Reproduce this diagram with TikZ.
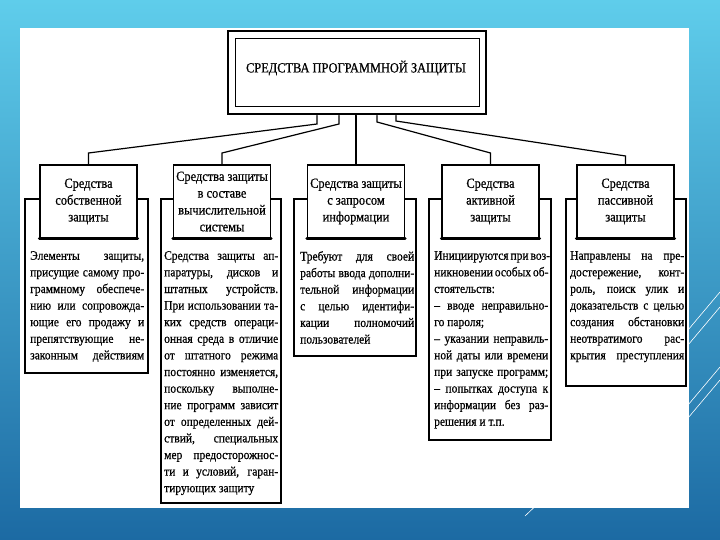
\documentclass[tikz,border=0pt]{standalone}
\usepackage{fontspec}
\setmainfont{Liberation Serif}[FakeStretch=0.885,FakeBold=0.6]
\usetikzlibrary{positioning}
\definecolor{bgtop}{HTML}{5FCDEB}
\definecolor{bgbot}{HTML}{1C6AA3}
% one justified line of a description
\newcommand{\jline}[1]{\noindent\makebox[\hsize][s]{#1}\par}

\begin{document}
\begin{tikzpicture}[x=1pt,y=-1pt,line cap=round,
  hdr/.style={draw,line width=1.3pt,fill=white,minimum width=97pt,minimum height=73pt,inner sep=0pt,align=center,font=\fontsize{14}{16.8}\selectfont},
  frame/.style={draw,line width=1.2pt,anchor=north west,inner sep=0pt,outer sep=0pt},
  body/.style={anchor=north west,inner sep=0pt,text width=114pt,align=justify,font=\fontsize{13}{16.6}\selectfont},
  conn/.style={line width=1.2pt}]
\useasboundingbox (0,0) rectangle (720,540);
% background
\fill[top color=bgtop,bottom color=bgbot] (0,0) rectangle (720,540);
\fill[white] (20,28) rectangle (689,508);
\draw[white,line width=0.6pt] (688,330) -- (720,292) (688,345) -- (720,307) (688,405) -- (720,367) (688,418) -- (720,380) (525,516) -- (545,497);

% main box
\node[draw,line width=2.8pt,minimum width=258pt,minimum height=83pt] (top) at (357,72.5) {};
\node[draw,line width=0.8pt,minimum width=244pt,minimum height=68pt] (topin) at (top) {};
\node[font=\fontsize{14}{16}\selectfont] (title) at (356,68) {СРЕДСТВА ПРОГРАММНОЙ ЗАЩИТЫ};

% frames of the descriptions
\node[frame,minimum width=123pt,minimum height=174pt] (f1) at (25,199) {};
\node[frame,minimum width=120pt,minimum height=304pt] (f2) at (161,199) {};
\node[frame,minimum width=122pt,minimum height=157pt] (f3) at (294,199) {};
\node[frame,minimum width=122pt,minimum height=241pt] (f4) at (429,199) {};
\node[frame,minimum width=120pt,minimum height=187pt] (f5) at (566,199) {};

% kinds of protection
\node[hdr] (h1) at (88.5,201.5) {Средства\\собственной\\защиты};
\node[hdr] (h2) at (222,201.5) {Средства защиты\\в составе\\вычислительной\\системы};
\node[hdr] (h3) at (356,201.5) {Средства защиты\\с запросом\\информации};
\node[hdr] (h4) at (490.5,201.5) {Средства\\активной\\защиты};
\node[hdr] (h5) at (625.5,201.5) {Средства\\пассивной\\защиты};
\foreach \n in {h1,h2,h3,h4,h5}
  \draw[line width=2.8pt] (\n.south west) -- (\n.south east);

% connectors
\coordinate (j1) at (317,124);
\coordinate (j2) at (339,124);
\coordinate (j4) at (377,122);
\coordinate (j5) at (396,121);
\coordinate (k1) at (0,153);
\coordinate (k5) at (0,156);
\draw[conn] (top.south -| j1) -- (j1) -- (h1.north |- k1) -- (h1.north);
\draw[conn] (top.south -| j2) -- (j2) -- (h2.north |- k1) -- (h2.north);
\draw[conn] (top.south -| h3.north) -- (h3.north);
\draw[conn] (top.south -| j4) -- (j4) -- (h4.north |- k1) -- (h4.north);
\draw[conn] (top.south -| j5) -- (j5) -- (h5.north |- k5) -- (h5.north);

% texts
\node[body] (b1) at ([shift={(5,52)}]f1.north west) {\jline{Элементы защиты,}
\jline{присущие самому про-}\jline{граммному обеспече-}\jline{нию или сопровожда-}
\jline{ющие его продажу и}\jline{препятствующие не-}\jline{законным действиям}};
\node[body] (b2) at ([shift={(3,52)}]f2.north west) {\jline{Средства защиты ап-}
\jline{паратуры, дисков и}\jline{штатных устройств.}\jline{При использовании та-}
\jline{ких средств операци-}\jline{онная среда в отличие}\jline{от штатного режима}
\jline{постоянно изменяется,}\jline{поскольку выполне-}\jline{ние программ зависит}
\jline{от определенных дей-}\jline{ствий, специальных}\jline{мер предосторожнос-}
\jline{ти и условий, гаран-}тирующих защиту};
\node[body] (b3) at ([shift={(6,52)}]f3.north west) {\jline{Требуют для своей}
\jline{работы ввода дополни-}\jline{тельной информации}\jline{с целью идентифи-}
\jline{кации полномочий}пользователей};
\node[body] (b4) at ([shift={(5,52)}]f4.north west) {\jline{Инициируются при воз-}
\jline{никновении особых об-}стоятельств:\par
\jline{– вводе неправильно-}го пароля;\par
\jline{– указании неправиль-}\jline{ной даты или времени}\jline{при запуске программ;}
\jline{– попытках доступа к}\jline{информации без раз-}решения и т.п.};
\node[body] (b5) at ([shift={(4,52)}]f5.north west) {\jline{Направлены на пре-}
\jline{достережение, конт-}\jline{роль, поиск улик и}\jline{доказательств с целью}
\jline{создания обстановки}\jline{неотвратимого рас-}\jline{крытия преступления}};
\end{tikzpicture}
\end{document}
